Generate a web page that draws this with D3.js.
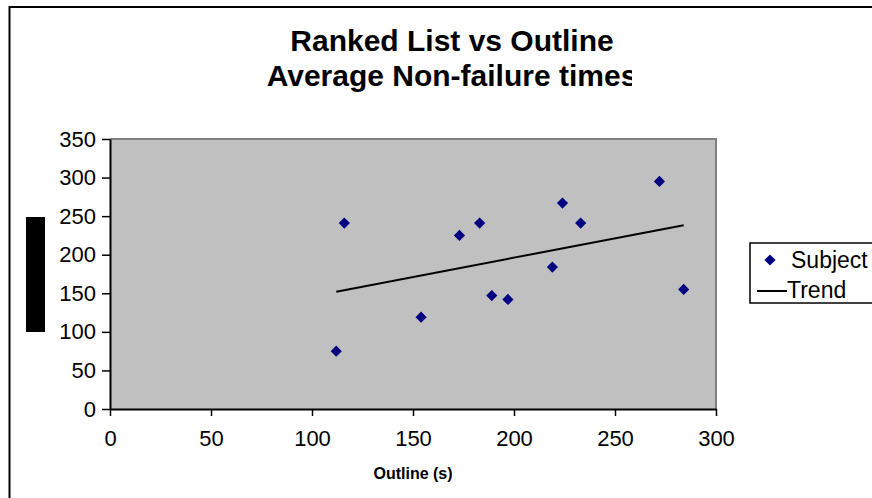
<!DOCTYPE html>
<html>
<head>
<meta charset="utf-8">
<script src="https://cdn.jsdelivr.net/npm/d3@7"></script>
<style>
  body { margin: 0; background: #fff; }
  svg { display: block; font-family: Arial, "Liberation Sans", sans-serif; }
</style>
</head>
<body>
<div id="chart"></div>
<script>
// values
const titleLines = ["Ranked List vs Outline", "Average Non-failure times"];
const xLabel = "Outline (s)";
const xTicks = [0, 50, 100, 150, 200, 250, 300];
const yTicks = [0, 50, 100, 150, 200, 250, 300, 350];
const outlineTimes = [112, 116, 154, 173, 183, 189, 197, 219, 224, 233, 272, 284];
const rankedTimes = [75, 241, 119, 225, 241, 147, 142, 184, 267, 241, 295, 155];
const legendNames = ["Subject", "Trend"];

const width = 872, height = 498;
const plot = { left: 110, right: 716, top: 139, bottom: 409 };

const svg = d3.select("#chart").append("svg")
   .attr("width", width)
   .attr("height", height);

// chart border (runs off the right and bottom edge)
svg.append("rect")
   .attr("x", 9.5).attr("y", 7)
   .attr("width", 900).attr("height", 520)
   .attr("fill", "#fff")
   .attr("stroke", "#000")
   .attr("stroke-width", 2);

// title, second line clipped like the original
svg.append("clipPath").attr("id", "titleclip")
   .append("rect").attr("x", 0).attr("y", 0).attr("width", 632).attr("height", 120);

svg.append("g").attr("clip-path", "url(#titleclip)")
   .selectAll("text")
   .data(titleLines)
   .join("text")
   .attr("x", 452)
   .attr("y", (d, i) => 51 + i * 35)
   .attr("text-anchor", "middle")
   .attr("font-size", 30)
   .attr("font-weight", "bold")
   .text(d => d);

// the y axis title renders as a solid black block
svg.append("rect")
   .attr("x", 26).attr("y", 217)
   .attr("width", 19).attr("height", 115)
   .attr("fill", "#000");

const x = d3.scaleLinear().domain([0, 300]).range([plot.left, plot.right]);
const y = d3.scaleLinear().domain([0, 350]).range([plot.bottom, plot.top]);

// plot area
svg.append("rect")
   .attr("x", plot.left).attr("y", plot.top)
   .attr("width", plot.right - plot.left)
   .attr("height", plot.bottom - plot.top)
   .attr("fill", "#c0c0c0");
svg.append("path")
   .attr("d", `M${plot.left},${plot.top}H${plot.right}V${plot.bottom}`)
   .attr("fill", "none")
   .attr("stroke", "#808080")
   .attr("stroke-width", 2);

const xAxis = svg.append("g")
   .attr("transform", `translate(0,${plot.bottom})`)
   .call(d3.axisBottom(x).tickValues(xTicks).tickSize(7).tickSizeOuter(0).tickPadding(14));
const yAxis = svg.append("g")
   .attr("transform", `translate(${plot.left},0)`)
   .call(d3.axisLeft(y).tickValues(yTicks).tickSize(8).tickSizeOuter(0).tickPadding(6));

[xAxis, yAxis].forEach(a => {
   a.select(".domain").attr("stroke", "#000").attr("stroke-width", 2);
   a.selectAll(".tick line").attr("stroke", "#000").attr("stroke-width", 1.5);
   a.selectAll(".tick text")
      .attr("font-family", "Arial, 'Liberation Sans', sans-serif")
      .attr("font-size", 22)
      .attr("fill", "#000");
});

svg.append("text")
   .attr("x", 413).attr("y", 479)
   .attr("text-anchor", "middle")
   .attr("font-size", 16)
   .attr("font-weight", "bold")
   .text(xLabel);

// least squares trend line
const points = outlineTimes.map((v, i) => ({ x: v, y: rankedTimes[i] }));
const mx = d3.mean(points, d => d.x), my = d3.mean(points, d => d.y);
const slope = d3.sum(points, d => (d.x - mx) * (d.y - my)) / d3.sum(points, d => (d.x - mx) ** 2);
const trend = d3.extent(outlineTimes).map(v => ({ x: v, y: my + slope * (v - mx) }));

svg.append("path")
   .datum(trend)
   .attr("d", d3.line().x(d => x(d.x)).y(d => y(d.y)))
   .attr("fill", "none")
   .attr("stroke", "#000")
   .attr("stroke-width", 2);

const diamond = d3.symbol().type(d3.symbolDiamond2).size(80);

svg.append("g").selectAll("path")
   .data(points)
   .join("path")
   .attr("transform", d => `translate(${x(d.x)},${y(d.y)})`)
   .attr("d", diamond)
   .attr("fill", "#000080");

// legend
const legend = svg.append("g");
legend.append("rect")
   .attr("x", 750).attr("y", 243)
   .attr("width", 140).attr("height", 60)
   .attr("fill", "#fff")
   .attr("stroke", "#000")
   .attr("stroke-width", 1.5);
legend.append("path")
   .attr("transform", "translate(770,260)")
   .attr("d", diamond)
   .attr("fill", "#000080");
legend.append("line")
   .attr("x1", 757).attr("x2", 787)
   .attr("y1", 291).attr("y2", 291)
   .attr("stroke", "#000").attr("stroke-width", 2);
legend.selectAll("text")
   .data(legendNames)
   .join("text")
   .attr("x", (d, i) => i === 0 ? 791 : 787)
   .attr("y", (d, i) => 268 + i * 30)
   .attr("font-size", 23)
   .text(d => d);
</script>
</body>
</html>
